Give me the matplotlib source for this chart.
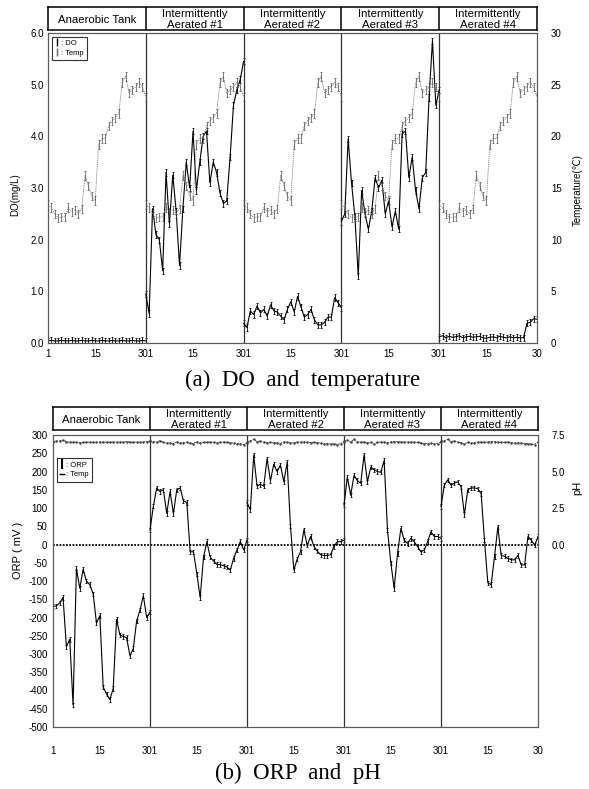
import numpy as np
import matplotlib
matplotlib.use("Agg")
import matplotlib.pyplot as plt
from matplotlib.lines import Line2D

plt.rcParams["font.family"] = ["Liberation Sans", "DejaVu Sans"]
plt.rcParams["axes.unicode_minus"] = False

tanks = [
    "Anaerobic Tank",
    "Intermittently\nAerated #1",
    "Intermittently\nAerated #2",
    "Intermittently\nAerated #3",
    "Intermittently\nAerated #4",
]
days = np.arange(1, 31)

# temperature (deg C), same ambient for every tank
temp_c = [13.4, 13.1, 12.5, 12.1, 12.2, 12.2, 13.1, 12.7, 12.9, 12.5,
          13.0, 16.2, 15.2, 14.2, 13.8, 19.2, 19.8, 19.8, 21.0, 21.5,
          21.8, 22.2, 25.2, 25.8, 24.2, 24.5, 24.8, 25.2, 24.8, 23.8]

do_anaerobic = [0.04, 0.05, 0.04, 0.04, 0.05, 0.04, 0.04, 0.05, 0.04, 0.04,
                0.05, 0.04, 0.04, 0.05, 0.04, 0.04, 0.05, 0.04, 0.04, 0.05,
                0.04, 0.04, 0.05, 0.04, 0.04, 0.05, 0.04, 0.04, 0.05, 0.04]
do_aer1 = [0.95, 0.57, 2.6, 2.1, 2.0, 1.4, 3.3, 2.3, 3.25, 2.55,
           1.5, 2.6, 3.5, 3.0, 4.1, 2.95, 3.5, 4.0, 4.1, 3.1,
           3.5, 3.3, 2.9, 2.7, 2.75, 3.6, 4.6, 4.9, 5.1, 5.45]
do_aer2 = [0.38, 0.3, 0.62, 0.55, 0.72, 0.58, 0.65, 0.52, 0.74, 0.62,
           0.6, 0.52, 0.45, 0.65, 0.8, 0.6, 0.9, 0.7, 0.5, 0.55,
           0.65, 0.45, 0.35, 0.35, 0.4, 0.5, 0.5, 0.88, 0.78, 0.68]
do_aer3 = [2.35, 2.5, 3.95, 3.1, 2.45, 1.3, 2.95, 2.5, 2.2, 2.55,
           3.2, 3.0, 3.15, 2.5, 2.75, 2.25, 2.55, 2.2, 4.05, 4.1,
           3.2, 3.6, 2.95, 2.6, 3.2, 3.3, 4.75, 5.85, 4.6, 4.9]
do_aer4 = [0.12, 0.14, 0.1, 0.13, 0.11, 0.12, 0.14, 0.1, 0.12, 0.13,
           0.11, 0.12, 0.13, 0.1, 0.09, 0.11, 0.12, 0.1, 0.13, 0.11,
           0.1, 0.12, 0.1, 0.11, 0.1, 0.1, 0.38, 0.4, 0.47, 0.46]
do_series = [do_anaerobic, do_aer1, do_aer2, do_aer3, do_aer4]

orp_anaerobic = [-170, -168, -160, -145, -280, -260, -440, -65, -120, -68,
                 -100, -110, -135, -215, -195, -390, -410, -425, -395, -205,
                 -248, -252, -255, -305, -285, -210, -180, -140, -200, -185]
orp_aer1 = [40, 105, 155, 145, 150, 85, 145, 85, 150, 155,
            120, 115, -20, -20, -80, -145, -35, 8, -35, -45,
            -55, -55, -58, -62, -70, -38, -15, 8, -15, 12]
orp_aer2 = [115, 95, 245, 160, 165, 160, 235, 175, 220, 200,
            218, 172, 225, 50, -70, -40, -20, 40, -2, 22,
            -5, -18, -28, -30, -30, -28, -5, 8, 8, 12]
orp_aer3 = [108, 185, 135, 190, 175, 168, 245, 172, 212, 205,
            200, 198, 230, 40, -50, -120, -25, 44, 12, 3,
            17, 8, -6, -20, -15, 8, 35, 22, 22, 17]
orp_aer4 = [104, 163, 177, 163, 168, 172, 158, 82, 150, 155,
            155, 153, 140, 12, -105, -110, -33, 48, -30, -32,
            -38, -42, -42, -30, -56, -56, 22, 12, -2, 22]
orp_series = [orp_anaerobic, orp_aer1, orp_aer2, orp_aer3, orp_aer4]

ph_anaerobic = [7.05, 7.08, 7.1, 7.15, 7.05, 7.0, 7.02, 7.0, 6.98, 7.0,
                7.0, 7.02, 7.0, 7.0, 7.02, 7.0, 7.02, 7.0, 7.03, 7.0,
                7.02, 7.02, 7.05, 7.02, 7.0, 7.02, 7.0, 7.02, 7.05, 7.08]
ph_aer1 = [7.08, 7.05, 7.0, 7.12, 7.0, 6.95, 6.95, 6.9, 7.05, 6.95,
           6.98, 7.0, 6.95, 6.9, 7.05, 6.95, 7.0, 7.0, 7.02, 7.0,
           6.98, 7.0, 7.02, 7.0, 6.98, 6.95, 6.92, 6.9, 6.85, 6.95]
ph_aer2 = [7.05, 7.1, 7.2, 7.05, 7.1, 7.0, 6.98, 7.0, 6.95, 6.98,
           6.92, 7.02, 7.0, 6.98, 6.95, 7.0, 7.02, 7.02, 7.0, 6.98,
           7.0, 6.98, 6.95, 6.9, 6.92, 6.88, 6.9, 6.85, 6.92, 7.05]
ph_aer3 = [7.08, 7.15, 7.02, 7.2, 7.05, 7.0, 7.02, 6.95, 7.0, 6.88,
           7.0, 7.02, 7.0, 6.98, 7.02, 7.05, 7.05, 7.02, 7.02, 7.0,
           7.02, 7.0, 7.0, 6.95, 6.9, 6.92, 6.95, 6.9, 6.92, 7.02]
ph_aer4 = [7.08, 7.12, 7.2, 7.05, 7.1, 7.0, 6.98, 6.88, 7.0, 6.95,
           6.98, 7.02, 7.02, 7.0, 7.02, 7.05, 7.05, 7.02, 7.0, 7.0,
           7.02, 6.98, 6.95, 6.98, 6.95, 6.9, 6.92, 6.88, 6.85, 7.02]
ph_series = [ph_anaerobic, ph_aer1, ph_aer2, ph_aer3, ph_aer4]

do_err = 0.06
temp_err = 0.4
orp_err = 6

span = len(days) - 1
n_panels = len(tanks)
bounds = [span * p for p in range(1, n_panels)]
tick_pos, tick_lab = [], []
for p in range(n_panels):
    tick_pos += [span * p, span * p + 14]
    tick_lab += ["1" if p == 0 else "301", "15"]
tick_pos.append(span * n_panels)
tick_lab.append("30")


def panel_x(p):
    return span * p + (days - 1)


def style_frame(ax):
    for s in ax.spines.values():
        s.set_linestyle((0, (1, 1)))
        s.set_color("0.35")
        s.set_linewidth(0.8)


def header(rect):
    hax = fig.add_axes(rect)
    hax.set_xlim(0, span * n_panels)
    hax.set_ylim(0, 1)
    hax.set_xticks([])
    hax.set_yticks([])
    for s in hax.spines.values():
        s.set_linewidth(1.1)
    for b in bounds:
        hax.axvline(b, color="k", lw=1.1)
    for p, name in enumerate(tanks):
        hax.text(span * p + span / 2, 0.45, name, ha="center", va="center",
                 fontsize=8.2, linespacing=1.15)


fig = plt.figure(figsize=(5.89, 7.89), dpi=100)

# ---- (a) DO and temperature ----
ax = fig.add_axes([0.0815, 0.5653, 0.8302, 0.3929])
ax2 = ax.twinx()
for p in range(n_panels):
    x = panel_x(p)
    ax2.plot(x, temp_c, color="0.5", lw=0.6, ls=(0, (1.5, 1)))
    ax2.errorbar(x, temp_c, yerr=temp_err, fmt="none", ecolor="0.3",
                 elinewidth=0.5, capsize=1.0, capthick=0.5)
    ax.errorbar(x, do_series[p], yerr=do_err, color="k", lw=0.8,
                elinewidth=0.6, capsize=1.0, capthick=0.6)
for b in bounds:
    ax.axvline(b, color="0.2", lw=0.9)
ax.set_xlim(0, span * n_panels)
ax.set_ylim(0, 6)
ax2.set_ylim(0, 30)
ax.set_yticks(np.arange(0, 6.1, 1.0))
ax.set_yticklabels([f"{v:.1f}" for v in np.arange(0, 6.1, 1.0)])
ax2.set_yticks(np.arange(0, 31, 5))
ax.set_xticks(tick_pos)
ax.set_xticklabels(tick_lab)
ax.tick_params(axis="both", length=0, labelsize=7, pad=4)
ax.tick_params(axis="y", pad=3)
ax2.tick_params(axis="y", length=0, labelsize=7, pad=10)
style_frame(ax)
style_frame(ax2)
handles = [Line2D([], [], color="k", marker="|", ls="none", ms=6),
           Line2D([], [], color="0.4", marker="|", ls="none", ms=6)]
leg = ax2.legend(handles, [": DO", ": Temp"], loc="upper left",
                 bbox_to_anchor=(0.008, 0.988), borderaxespad=0, fontsize=5.5,
                 handlelength=0.6, handletextpad=0.2, labelspacing=0.3,
                 borderpad=0.4, fancybox=False, edgecolor="k")
leg.get_frame().set_linewidth(0.8)
header([0.0815, 0.962, 0.8302, 0.0292])
fig.text(15 / 589, 1 - 195 / 789, "DO(mg/L)", rotation=90, ha="center",
         va="center", fontsize=7)
fig.text(578 / 589, 1 - 190 / 789, "Temperature(℃)", rotation=90,
         ha="center", va="center", fontsize=7)
fig.text(0.513, 1 - 380 / 789, "(a)  DO  and  temperature", ha="center",
         va="center", fontsize=16.5, family="Liberation Serif")

# ---- (b) ORP and pH ----
bx = fig.add_axes([0.090, 0.0786, 0.8234, 0.370])
bx2 = bx.twinx()
bx.axhline(0, color="k", lw=1.3, ls=(0, (1, 0.8)))
for p in range(n_panels):
    x = panel_x(p)
    bx2.plot(x, ph_series[p], color="0.25", lw=0.7, ls=(0, (2, 1)),
             marker=".", ms=1.5)
    bx.errorbar(x, orp_series[p], yerr=orp_err, color="k", lw=0.8,
                elinewidth=0.6, capsize=1.0, capthick=0.6)
for b in bounds:
    bx.axvline(b, color="0.2", lw=0.9)
bx.set_xlim(0, span * n_panels)
bx.set_ylim(-500, 300)
bx2.set_ylim(-12.5, 7.5)
bx.set_yticks(np.arange(-500, 301, 50))
bx2.set_yticks([0, 2.5, 5.0, 7.5])
bx2.set_yticklabels(["0.0", "2.5", "5.0", "7.5"])
bx.set_xticks(tick_pos)
bx.set_xticklabels(tick_lab)
bx.tick_params(axis="both", length=0, labelsize=7)
bx.tick_params(axis="x", pad=14)
bx.tick_params(axis="y", pad=4)
bx2.tick_params(axis="y", length=0, labelsize=7, pad=10)
style_frame(bx)
style_frame(bx2)
handles = [Line2D([], [], color="k", marker="|", ls="none", ms=7, mew=1.5),
           Line2D([], [], color="k", marker="_", ls="none", ms=4)]
leg = bx2.legend(handles, [": ORP", ": Temp"], loc="upper left",
                 bbox_to_anchor=(0.008, 0.92), borderaxespad=0, fontsize=5.5,
                 handlelength=0.6, handletextpad=0.2, labelspacing=0.3,
                 borderpad=0.4, fancybox=False, edgecolor="k")
leg.get_frame().set_linewidth(0.8)
header([0.090, 0.455, 0.8234, 0.0292])
fig.text(18 / 589, 1 - 550 / 789, "ORP ( mV )", rotation=90, ha="center",
         va="center", fontsize=8)
fig.text(577 / 589, 1 - 488 / 789, "pH", rotation=90, ha="center",
         va="center", fontsize=8)
fig.text(0.506, 1 - 773 / 789, "(b)  ORP  and  pH", ha="center",
         va="center", fontsize=16.5, family="Liberation Serif")

fig.savefig("out.png", dpi=100)
